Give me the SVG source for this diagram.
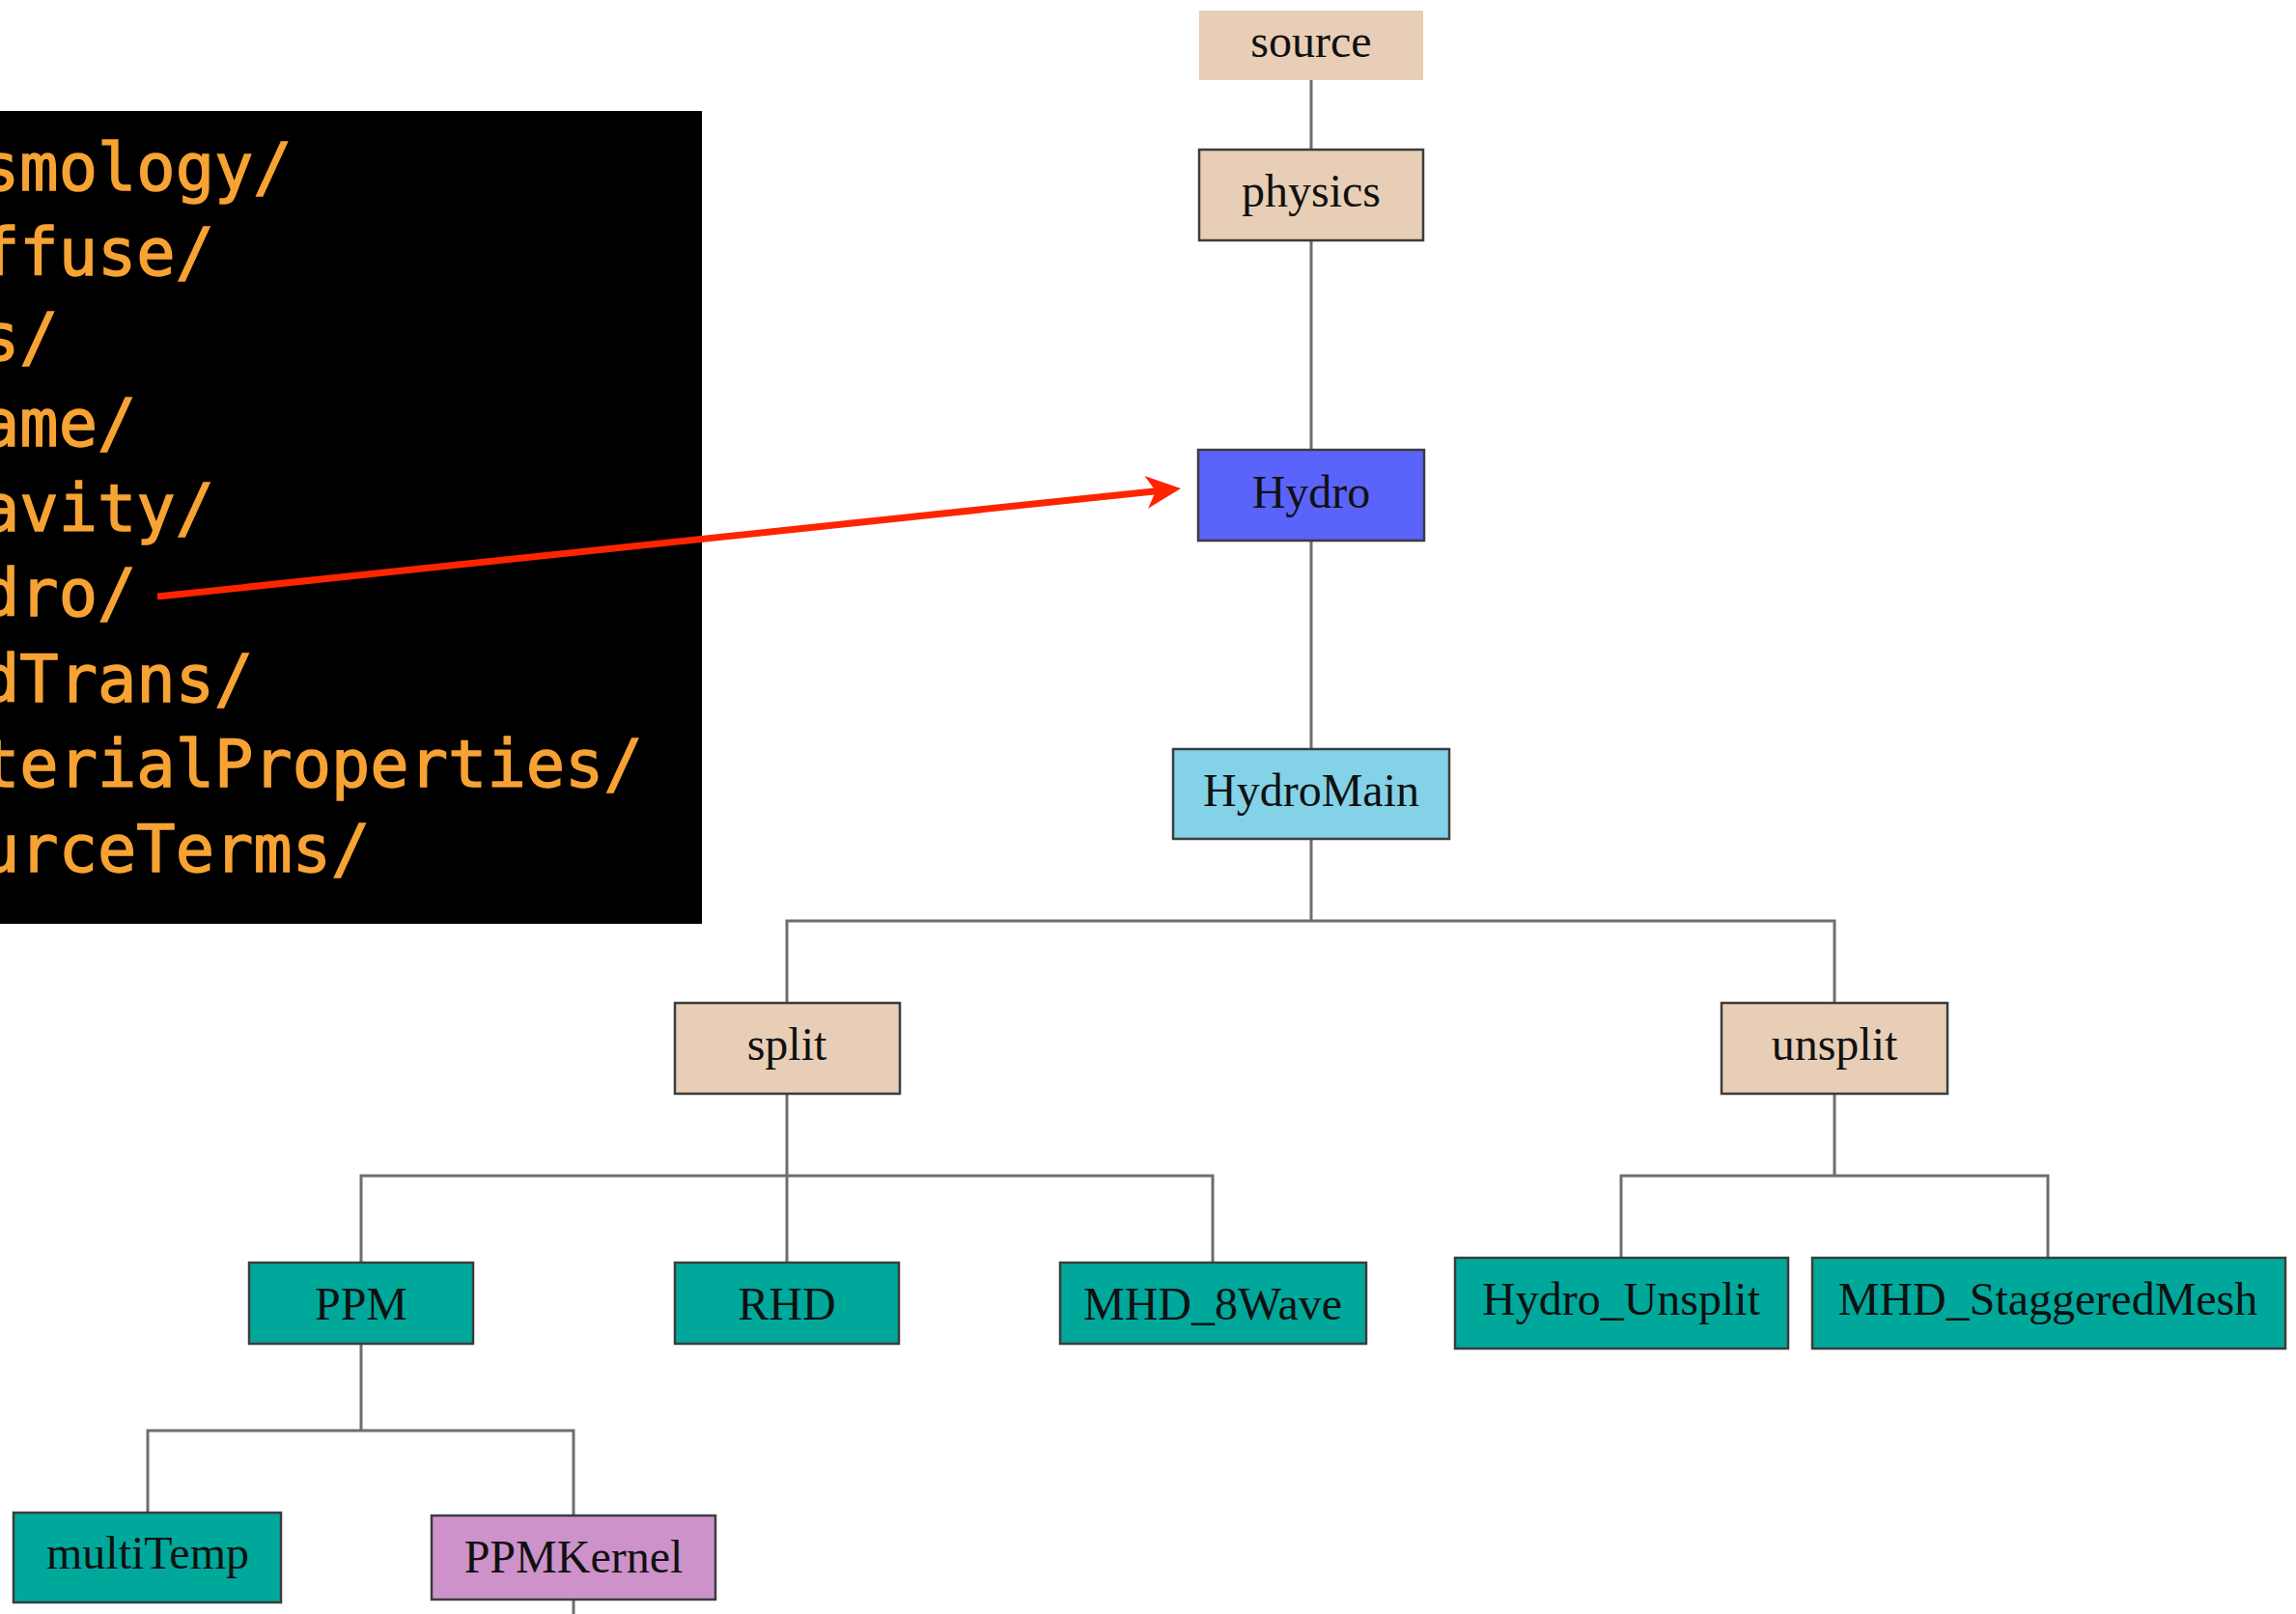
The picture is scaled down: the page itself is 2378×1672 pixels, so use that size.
<svg xmlns="http://www.w3.org/2000/svg" width="2378" height="1672" viewBox="0 0 2378 1672">
  <defs>
    <style>
      .box { stroke: #3c3c3c; stroke-width: 2.5; }
      .tan { fill: #E8CEB6; }
      .blue { fill: #5A64FA; }
      .sky { fill: #84D2E8; }
      .teal { fill: #00A89B; }
      .mauve { fill: #CD92C9; }
      .lbl { font-family: "Liberation Serif", "DejaVu Serif", serif; font-size: 48px; fill: #111; text-anchor: middle; }
      .term { font-family: "DejaVu Sans Mono", "Liberation Mono", monospace; font-size: 67px; fill: #F7A334; stroke: #F7A334; stroke-width: 1.4; }
      .edge { stroke: #6e6e6e; stroke-width: 3; fill: none; }
      .pointer { stroke: #FF2400; stroke-width: 7; fill: none; }
    </style>
  </defs>
  <rect width="2378" height="1672" fill="#FFFFFF"/>

  <!-- terminal listing of the physics directory -->
  <g id="terminal">
    <rect x="0" y="115" width="727" height="842" fill="#000000"/>
    <text class="term" x="-20" y="197">smology/</text>
    <text class="term" x="-20" y="285">ffuse/</text>
    <text class="term" x="-20" y="373">s/</text>
    <text class="term" x="-20" y="462">ame/</text>
    <text class="term" x="-20" y="550">avity/</text>
    <text class="term" x="-20" y="638">dro/</text>
    <text class="term" x="-20" y="727">dTrans/</text>
    <text class="term" x="-20" y="815">terialProperties/</text>
    <text class="term" x="-20" y="903">urceTerms/</text>
  </g>

  <!-- tree connectors -->
  <g id="connectors">
    <path class="edge" d="M1358,83 V155 M1358,249 V466 M1358,560 V776 M1358,869 V954"/>
    <path class="edge" d="M815,1039 V954 H1900 V1039"/>
    <path class="edge" d="M815,1133 V1307 M374,1307 V1218 H1256 V1307"/>
    <path class="edge" d="M1900,1133 V1218 M1679,1303 V1218 H2121 V1303"/>
    <path class="edge" d="M374,1392 V1482 M153,1567 V1482 H594 V1570"/>
    <path class="edge" d="M594,1657 V1672"/>
    <!-- red pointer from the listing to the Hydro node -->
    <line class="pointer" x1="163" y1="618" x2="1200" y2="508.4"/>
    <path d="M1223,506 L1185.4,492.9 L1197.1,508.7 L1189,526.7 Z" fill="#FF2400"/>
  </g>

  <g id="source">
    <rect class="tan" x="1242" y="11" width="232" height="72"/>
    <text class="lbl" x="1358" y="59">source</text>
  </g>
  <g id="physics">
    <rect class="box tan" x="1242" y="155" width="232" height="94"/>
    <text class="lbl" x="1358" y="214">physics</text>
  </g>
  <g id="Hydro">
    <rect class="box blue" x="1241" y="466" width="234" height="94"/>
    <text class="lbl" x="1358" y="526">Hydro</text>
  </g>
  <g id="HydroMain">
    <rect class="box sky" x="1215" y="776" width="286" height="93"/>
    <text class="lbl" x="1358" y="835">HydroMain</text>
  </g>
  <g id="split">
    <rect class="box tan" x="699" y="1039" width="233" height="94"/>
    <text class="lbl" x="815" y="1098">split</text>
  </g>
  <g id="unsplit">
    <rect class="box tan" x="1783" y="1039" width="234" height="94"/>
    <text class="lbl" x="1900" y="1098">unsplit</text>
  </g>
  <g id="PPM">
    <rect class="box teal" x="258" y="1308" width="232" height="84"/>
    <text class="lbl" x="374" y="1367">PPM</text>
  </g>
  <g id="RHD">
    <rect class="box teal" x="699" y="1308" width="232" height="84"/>
    <text class="lbl" x="815" y="1367">RHD</text>
  </g>
  <g id="MHD_8Wave">
    <rect class="box teal" x="1098" y="1308" width="317" height="84"/>
    <text class="lbl" x="1256" y="1367">MHD_8Wave</text>
  </g>
  <g id="Hydro_Unsplit">
    <rect class="box teal" x="1507" y="1303" width="345" height="94"/>
    <text class="lbl" x="1679" y="1362">Hydro_Unsplit</text>
  </g>
  <g id="MHD_StaggeredMesh">
    <rect class="box teal" x="1877" y="1303" width="490" height="94"/>
    <text class="lbl" x="2121" y="1362">MHD_StaggeredMesh</text>
  </g>
  <g id="multiTemp">
    <rect class="box teal" x="14" y="1567" width="277" height="93"/>
    <text class="lbl" x="153" y="1625">multiTemp</text>
  </g>
  <g id="PPMKernel">
    <rect class="box mauve" x="447" y="1570" width="294" height="87"/>
    <text class="lbl" x="594" y="1629">PPMKernel</text>
  </g>
</svg>
